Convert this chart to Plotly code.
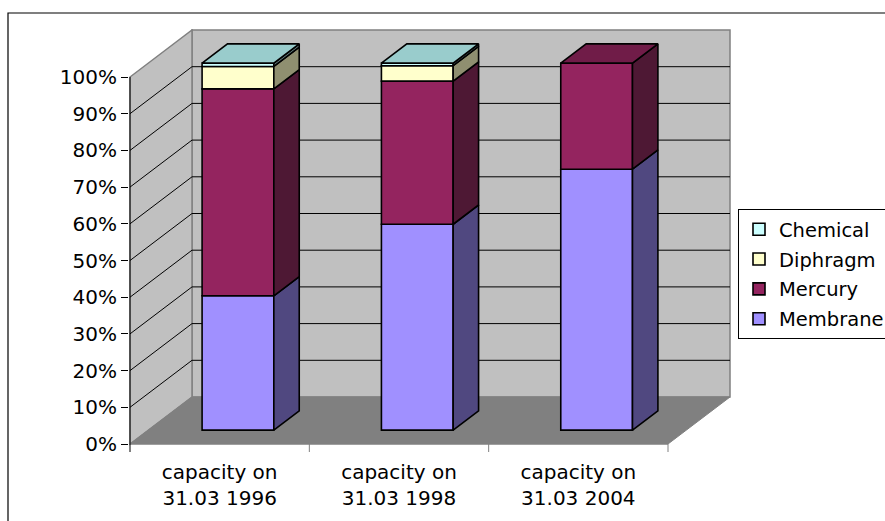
import plotly.graph_objects as go

# ---------------- data ----------------
categories = ["capacity on<br>31.03 1996", "capacity on<br>31.03 1998", "capacity on<br>31.03 2004"]
series_names = ["Membrane", "Mercury", "Diphragm", "Chemical"]
membrane = [36.6, 56.1, 71.1]
mercury = [56.4, 39.0, 28.9]
diphragm = [6.1, 4.2, 0.0]
chemical = [0.9, 0.7, 0.0]
y_tick_values = [0, 10, 20, 30, 40, 50, 60, 70, 80, 90, 100]
y_tick_labels = [f"{v}%" for v in y_tick_values]

series_values = [membrane, mercury, diphragm, chemical]

# ---------------- style ----------------
FONT = "DejaVu Sans"
FS = 20
LEGEND_FS = 19.5
front_colors = ["#A090FF", "#94245F", "#FFFFCC", "#CCFFFF"]
side_colors = ["#504880", "#4E1834", "#8F8F70", "#668080"]
top_colors = ["#7868C0", "#701C48", "#C0C099", "#99CCCC"]

W, H = 885, 521
FRONT_LEFT, FRONT_RIGHT = 130, 668      # pixel x of front floor edge
FRONT_BOTTOM, FRONT_TOP = 444, 77       # pixel y of 0% and 100% on the front plane
DEPTH_PX_X, DEPTH_PX_Y = 62, 47         # oblique depth offset in pixels
n_cat = len(categories)
px_cat = (FRONT_RIGHT - FRONT_LEFT) / n_cat
px_pct = (FRONT_BOTTOM - FRONT_TOP) / 100.0
DX = DEPTH_PX_X / px_cat
DY = DEPTH_PX_Y / px_pct
BAR_W = 0.4
F0, F1 = 0.295, 0.705                   # bar front / back depth fractions

PL, PR, PT, PB = 129, 731, 29, 452      # plot area pixels
x_range = [(PL - FRONT_LEFT) / px_cat, (PR - FRONT_LEFT) / px_cat]
y_range = [(FRONT_BOTTOM - PB) / px_pct, (FRONT_BOTTOM - PT) / px_pct]


def P(x, y, d):
    return x + d * DX, y + d * DY


def path(points):
    return "M " + " L ".join(f"{px},{py}" for px, py in points) + " Z"


ymax = max(y_tick_values)
shapes = []
# back wall
shapes.append(dict(type="path", xref="x", yref="y", layer="below",
                   path=path([P(0, 0, 1), P(n_cat, 0, 1), P(n_cat, ymax, 1), P(0, ymax, 1)]),
                   fillcolor="#C0C0C0", line=dict(color="#808080", width=1.5)))
# left wall
shapes.append(dict(type="path", xref="x", yref="y", layer="below",
                   path=path([P(0, 0, 0), P(0, ymax, 0), P(0, ymax, 1), P(0, 0, 1)]),
                   fillcolor="#C0C0C0", line=dict(color="#808080", width=1.5)))
# floor
shapes.append(dict(type="path", xref="x", yref="y", layer="below",
                   path=path([P(0, 0, 0), P(n_cat, 0, 0), P(n_cat, 0, 1), P(0, 0, 1)]),
                   fillcolor="#808080", line=dict(color="#808080", width=1)))
# gridlines
for v in y_tick_values[1:-1]:
    x0, y0 = P(0, v, 1)
    x1, y1 = P(n_cat, v, 1)
    shapes.append(dict(type="line", xref="x", yref="y", layer="below",
                       x0=x0, y0=y0, x1=x1, y1=y1, line=dict(color="#000000", width=1)))
    xa, ya = P(0, v, 0)
    shapes.append(dict(type="line", xref="x", yref="y", layer="below",
                       x0=xa, y0=ya, x1=x0, y1=y0, line=dict(color="#000000", width=1)))
# front axes
shapes.append(dict(type="line", xref="x", yref="y", layer="below",
                   x0=0, y0=0, x1=n_cat, y1=0, line=dict(color="#808080", width=1)))
shapes.append(dict(type="line", xref="x", yref="y", layer="above",
                   x0=0, y0=0, x1=0, y1=ymax, line=dict(color="#000000", width=1)))
for i in range(n_cat + 1):
    shapes.append(dict(type="line", xref="x", yref="y", layer="above",
                       x0=i, y0=0, x1=i, y1=y_range[0],
                       line=dict(color="#000000" if i == 0 else "#808080", width=1)))
# outer chart border
shapes.append(dict(type="rect", xref="paper", yref="paper",
                   x0=(8 - PL) / (PR - PL), x1=(1000 - PL) / (PR - PL),
                   y0=(PB - 700) / (PB - PT), y1=(PB - 13) / (PB - PT),
                   line=dict(color="#000000", width=1.2), fillcolor="rgba(0,0,0,0)"))

fig = go.Figure()

# front faces (bars) and side / top faces
cum = [0.0] * n_cat
side_polys = [[] for _ in series_names]
top_polys = [[] for _ in series_names]
top_index = [max(k for k in range(len(series_values)) if series_values[k][i] > 0) for i in range(n_cat)]
for k, (name, vals) in enumerate(zip(series_names, series_values)):
    xs, ys, bases = [], [], []
    for i in range(n_cat):
        v = vals[i]
        lo, hi = cum[i], cum[i] + v
        xc = i + 0.5
        xs.append(xc + F0 * DX)
        ys.append(v if v > 0 else None)
        bases.append(lo + F0 * DY)
        if v > 0:
            xr = xc + BAR_W / 2
            xl = xc - BAR_W / 2
            side_polys[k].append([P(xr, lo, F0), P(xr, lo, F1), P(xr, hi, F1), P(xr, hi, F0), P(xr, lo, F0)])
            if top_index[i] == k:
                top_polys[k].append([P(xl, hi, F0), P(xr, hi, F0), P(xr, hi, F1), P(xl, hi, F1), P(xl, hi, F0)])
        cum[i] = hi
    fig.add_trace(go.Bar(x=xs, y=ys, base=bases, width=BAR_W, name=name, legendgroup=name,
                         legendrank=100 - k,
                         marker=dict(color=front_colors[k], line=dict(color="#000000", width=1.6)),
                         hoverinfo="skip"))


def poly_trace(polys, color):
    px_, py_ = [], []
    for poly in polys:
        for a, b in poly:
            px_.append(a)
            py_.append(b)
        px_.append(None)
        py_.append(None)
    return go.Scatter(x=px_, y=py_, mode="lines", fill="toself", fillcolor=color,
                      line=dict(color="#000000", width=1.6), showlegend=False, hoverinfo="skip")


for k in range(len(series_names)):
    if side_polys[k]:
        fig.add_trace(poly_trace(side_polys[k], side_colors[k]))
    if top_polys[k]:
        fig.add_trace(poly_trace(top_polys[k], top_colors[k]))

fig.update_layout(
    width=W, height=H,
    margin=dict(l=PL, r=W - PR, t=PT, b=H - PB, pad=0, autoexpand=False),
    paper_bgcolor="white", plot_bgcolor="rgba(0,0,0,0)",
    barmode="overlay",
    font=dict(family=FONT, size=FS, color="#000000"),
    shapes=shapes,
    showlegend=True,
    legend=dict(x=(738 - PL) / (PR - PL), y=(PB - 209) / (PB - PT), xanchor="left", yanchor="top",
                traceorder="grouped", tracegroupgap=1.5,
                bordercolor="#000000", borderwidth=1, bgcolor="white",
                font=dict(family=FONT, size=LEGEND_FS, color="#000000")),
    xaxis=dict(range=x_range, showgrid=False, zeroline=False, showline=False,
               tickmode="array", tickvals=[i + 0.5 for i in range(n_cat)], ticktext=categories,
               ticks="", ticklabelstandoff=6, tickfont=dict(family=FONT, size=FS)),
    yaxis=dict(range=y_range, showgrid=False, zeroline=False, showline=False,
               tickmode="array", tickvals=y_tick_values, ticktext=y_tick_labels,
               ticks="outside", ticklen=7, tickcolor="#000000", tickwidth=1,
               tickfont=dict(family=FONT, size=FS)),
)

fig.write_html("out.html")
